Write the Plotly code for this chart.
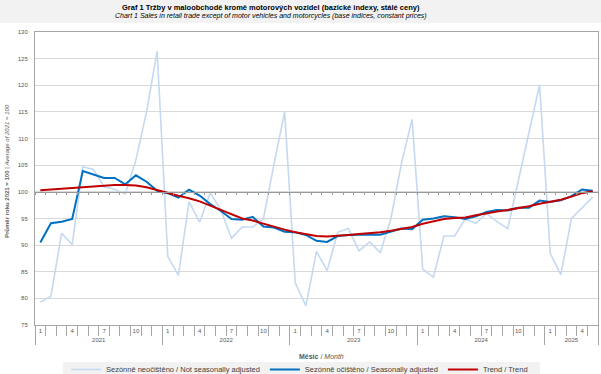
import plotly.graph_objects as go

# ---- data -------------------------------------------------------------
years = ["2021", "2022", "2023", "2024", "2025"]
months_in_year = [12, 12, 12, 12, 5]

nsa = [79.3, 80.4, 92.2, 90.1, 104.7, 104.2, 100.9, 100.5, 99.6, 106.0, 115.0, 126.4,
       87.9, 84.3, 98.1, 94.3, 99.8, 96.6, 91.3, 93.4, 93.4, 94.9, 105.2, 115.0,
       82.9, 78.6, 88.8, 85.2, 92.4, 93.1, 88.9, 90.6, 88.6, 94.9, 105.4, 113.6,
       85.5, 84.0, 91.7, 91.7, 94.9, 94.1, 95.9, 94.4, 93.1, 102.0, 111.0, 120.1,
       88.5, 84.4, 95.0, 97.1, 99.0]

sa = [90.5, 94.1, 94.4, 94.9, 103.9, 103.2, 102.6, 102.6, 101.4, 103.1, 101.9, 100.2,
      99.75, 98.9, 100.4, 99.3, 97.7, 96.4, 94.9, 94.75, 95.3, 93.5, 93.3, 92.5,
      92.4, 91.9, 90.8, 90.6, 91.7, 91.9, 92.0, 92.0, 91.95, 92.5, 93.1, 93.0,
      94.75, 95.0, 95.4, 95.25, 94.9, 95.4, 96.2, 96.6, 96.5, 97.0, 97.0, 98.35,
      98.1, 98.4, 99.2, 100.45, 100.2]

trend = [100.3, 100.45, 100.6, 100.75, 100.95, 101.1, 101.25, 101.3, 101.3, 101.2, 100.85, 100.3,
         99.75, 99.25, 98.8, 98.2, 97.4, 96.6, 95.7, 95.0, 94.6, 94.0, 93.4, 92.9,
         92.4, 92.0, 91.7, 91.6, 91.7, 91.9, 92.1, 92.2, 92.4, 92.7, 93.1, 93.4,
         94.0, 94.4, 94.9, 95.1, 95.2, 95.6, 96.0, 96.3, 96.6, 96.9, 97.3, 97.75,
         98.1, 98.5, 99.1, 99.75, 100.1]

labelled_months = [1, 4, 7, 10]

# ---- derived category positions --------------------------------------
month_of = []
for n in months_in_year:
    month_of += list(range(1, n + 1))
x = list(range(len(month_of)))
n_pts = len(x)

month_tickvals = [i for i, m in enumerate(month_of) if m in labelled_months]
month_ticktext = [str(month_of[i]) for i in month_tickvals]

year_bounds = [-0.5]
year_centers = []
start = 0
for n in months_in_year:
    year_centers.append(start + (n - 1) / 2)
    start += n
    year_bounds.append(start - 0.5)

month_bounds = [i - 0.5 for i in range(n_pts + 1)]

FONT = "Liberation Sans, Arial, sans-serif"
GRAY = "#595959"
LINE = "#a6a6a6"
xr = [-0.5, n_pts - 0.5]

fig = go.Figure()
# empty helper traces so that the overlay axes (labels, 100-line) are drawn
for ax in ["x2", "x3", "x4"]:
    fig.add_trace(go.Scatter(x=[], y=[], xaxis=ax, yaxis="y", showlegend=False,
                             hoverinfo="skip", mode="lines"))

fig.add_trace(go.Scatter(x=x, y=nsa, mode="lines", name="Sezónně neočištěno / Not seasonally adjusted",
                         line=dict(color="#c5d9f1", width=1.6)))
fig.add_trace(go.Scatter(x=x, y=sa, mode="lines", name="Sezónně očištěno / Seasonally adjusted",
                         line=dict(color="#0070c0", width=2)))
fig.add_trace(go.Scatter(x=x, y=trend, mode="lines", name="Trend / Trend",
                         line=dict(color="#c00000", width=2)))

fig.update_layout(
    width=601, height=374,
    margin=dict(l=35, r=3, t=32, b=49, autoexpand=False),
    paper_bgcolor="white", plot_bgcolor="white",
    font=dict(family=FONT, color=GRAY),
    xaxis=dict(range=xr, showgrid=False, zeroline=False, showline=True, linecolor=LINE,
               mirror=True, tickmode="array", tickvals=year_bounds, ticks="outside",
               ticklen=19, tickcolor=LINE, showticklabels=False,
               minor=dict(ticks="outside", tickmode="array", tickvals=month_bounds,
                          ticklen=10, tickcolor=LINE)),
    xaxis2=dict(range=xr, overlaying="x", anchor="y", side="bottom", showgrid=False,
                zeroline=False, showline=False, tickmode="array", tickvals=month_tickvals,
                ticktext=month_ticktext, ticks="", ticklabelstandoff=1,
                tickfont=dict(size=6, color=GRAY, family=FONT)),
    xaxis3=dict(range=xr, overlaying="x", anchor="y", side="bottom", showgrid=False,
                zeroline=False, showline=False, tickmode="array", tickvals=year_centers,
                ticktext=years, ticks="", ticklabelstandoff=10,
                tickfont=dict(size=6, color=GRAY, family=FONT)),
    xaxis4=dict(range=xr, overlaying="x", anchor="free", position=(100 - 75) / 55,
                side="bottom", showgrid=False, zeroline=False, showline=True,
                linecolor="#9a9a9a", linewidth=1, tickmode="array", tickvals=month_bounds,
                ticks="outside", ticklen=2, tickcolor="#9a9a9a", showticklabels=False),
    yaxis=dict(range=[75, 130], tick0=75, dtick=5, showgrid=True, gridcolor="#d9d9d9",
               zeroline=False, showline=True, linecolor=LINE, mirror=True, ticks="",
               ticklabelstandoff=5, tickfont=dict(size=6, color=GRAY, family=FONT)),
    legend=dict(orientation="h", x=(66 - 35) / 563, y=(325 - 355) / 293,
                xanchor="left", yanchor="top", bgcolor="rgba(0,0,0,0)",
                font=dict(size=7.5, color="#404040", family=FONT), tracegroupgap=0),
    showlegend=True,
)

W, H = 563.0, 293.0
def px(xp):
    return (xp - 35) / W
def py(yp):
    return (325 - yp) / H

# title band and legend band backgrounds
fig.add_shape(type="rect", xref="paper", yref="paper", x0=px(0), x1=px(601),
              y0=py(23), y1=py(0), fillcolor="#f2f2f2", line=dict(width=0), layer="below")
fig.add_shape(type="rect", xref="paper", yref="paper", x0=px(63), x1=px(540),
              y0=py(380), y1=py(362), fillcolor="#f2f2f2", line=dict(width=0), layer="below")

fig.add_annotation(xref="paper", yref="paper", x=px(271), y=py(7.5), showarrow=False,
                   text="<b>Graf 1 Tržby v maloobchodě kromě motorových vozidel (bazické indexy, stálé ceny)</b>",
                   font=dict(size=7.5, color="#000000", family=FONT), xanchor="center", yanchor="middle")
fig.add_annotation(xref="paper", yref="paper", x=px(271), y=py(16.5), showarrow=False,
                   text="<i>Chart 1 Sales in retail trade except of motor vehicles and motorcycles (base indices, constant prices)</i>",
                   font=dict(size=7, color="#000000", family=FONT), xanchor="center", yanchor="middle")
fig.add_annotation(xref="paper", yref="paper", x=px(7), y=py(171), showarrow=False, textangle=-90,
                   text="<b>Průměr roku 2021 = 100</b> | <i>Average of 2021 = 100</i>",
                   font=dict(size=6, color=GRAY, family=FONT), xanchor="center", yanchor="middle")
fig.add_annotation(xref="paper", yref="paper", x=px(321), y=py(356.5), showarrow=False,
                   text="<b>Měsíc</b> / <i>Month</i>",
                   font=dict(size=7, color=GRAY, family=FONT), xanchor="center", yanchor="middle")

fig.write_html("out.html", config={"displayModeBar": False},
               post_script="document.body.style.margin='0';document.body.style.padding='0';")
